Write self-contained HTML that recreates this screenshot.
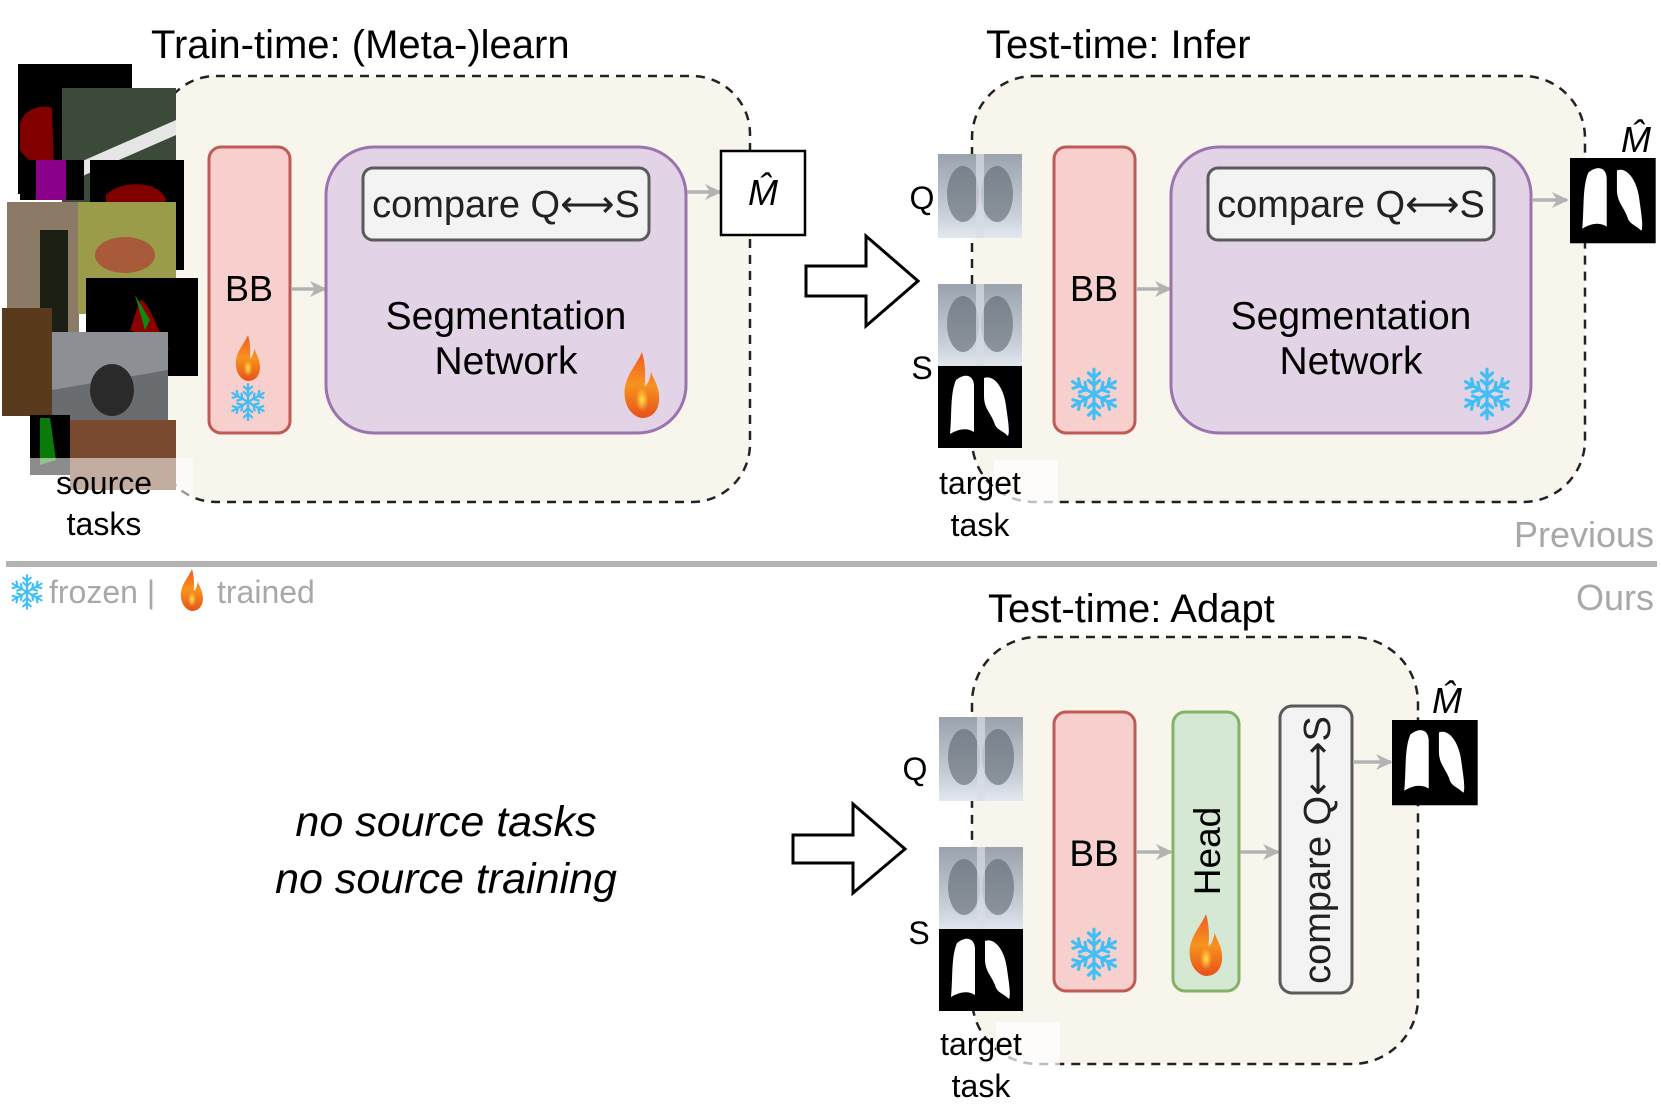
<!DOCTYPE html>
<html><head><meta charset="utf-8"><style>
body{margin:0;background:#fff;}
svg{display:block;font-family:"Liberation Sans",Arial,sans-serif;}
</style></head><body>
<svg width="1661" height="1110" viewBox="0 0 1661 1110" xmlns="http://www.w3.org/2000/svg">
<defs>
 <linearGradient id="fl" x1="0" y1="1" x2="0" y2="0">
  <stop offset="0" stop-color="#e8501a"/><stop offset="0.5" stop-color="#f7931e"/><stop offset="1" stop-color="#f15a24"/>
 </linearGradient>
 <radialGradient id="fc" cx="0.5" cy="0.6" r="0.4"><stop offset="0" stop-color="#ffe14a"/><stop offset="1" stop-color="#ffe14a" stop-opacity="0"/></radialGradient>
 <g id="flame">
  <path d="M0,-50 C-8,-30 -30,-10 -26,18 C-24,40 -8,50 0,50 C14,50 26,40 26,20 C26,0 16,-10 14,-20 C12,-8 8,0 4,2 C6,-20 4,-36 0,-50 Z" fill="url(#fl)"/>
  <ellipse cx="0" cy="18" rx="12" ry="22" fill="url(#fc)"/>
 </g>
 <g id="snow" stroke="#3fbff5" stroke-width="5" stroke-linecap="round" fill="none">
  <g id="arm"><line x1="0" y1="0" x2="0" y2="-40"/><polyline points="-9,-34 0,-26 9,-34"/><polyline points="-9,-22 0,-14 9,-22"/></g>
  <use href="#arm" transform="rotate(60)"/><use href="#arm" transform="rotate(120)"/><use href="#arm" transform="rotate(180)"/><use href="#arm" transform="rotate(240)"/><use href="#arm" transform="rotate(300)"/>
 </g>
 <linearGradient id="xr" x1="0" y1="0" x2="0" y2="1"><stop offset="0" stop-color="#9aa3ad"/><stop offset="0.7" stop-color="#c7ced8"/><stop offset="1" stop-color="#e3e8f0"/></linearGradient>
 <g id="xray">
  <rect x="0" y="0" width="84" height="84" fill="url(#xr)"/>
  <ellipse cx="25" cy="40" rx="16" ry="28" fill="#5d6670" opacity="0.6"/>
  <ellipse cx="59" cy="40" rx="16" ry="28" fill="#5d6670" opacity="0.6"/>
  <rect x="38" y="0" width="8" height="84" fill="#d8dde5" opacity="0.7"/>
 </g>
 <g id="mask">
  <rect x="0" y="0" width="84" height="82" fill="#000"/>
  <path d="M18,14 C28,6 36,10 36,20 L36,66 C30,62 22,62 12,68 C14,48 12,28 18,14 Z" fill="#fff"/>
  <path d="M46,12 C56,8 66,22 68,40 C70,54 72,66 70,70 C64,64 58,64 56,56 C52,46 46,42 46,30 Z" fill="#fff"/>
 </g>
 <marker id="ga" markerWidth="18" markerHeight="18" refX="15" refY="9" orient="auto" markerUnits="userSpaceOnUse"><path d="M0,1 L17,9 L0,17 L5,9 Z" fill="#b3b3b3"/></marker>
</defs>

<!-- ===== TOP LEFT ===== -->
<text x="151" y="58" font-size="40">Train-time: (Meta-)learn</text>
<rect x="158" y="76" width="592" height="426" rx="58" fill="#f8f5ed" stroke="#222" stroke-width="2.5" stroke-dasharray="9,7"/>
<rect x="18" y="64" width="114" height="130" fill="#000"/>
<path d="M20,125 C22,110 40,104 52,108 L54,170 C40,168 26,160 20,150 Z" fill="#800000"/>
<rect x="62" y="88" width="114" height="118" fill="#3c4a3a"/>
<path d="M62,170 L176,120 L176,135 L62,185 Z" fill="#e6e6e6"/>
<rect x="20" y="160" width="64" height="40" fill="#000"/><rect x="36" y="160" width="30" height="40" fill="#8b008b"/>
<rect x="90" y="160" width="94" height="110" fill="#000"/><path d="M106,195 C120,180 160,180 166,200 L160,220 L106,222 Z" fill="#800000"/>
<rect x="7" y="202" width="72" height="160" fill="#8a7a66"/>
<rect x="40" y="230" width="28" height="120" fill="#1c1f14"/>
<rect x="78" y="202" width="98" height="112" fill="#9a9c4a"/><ellipse cx="125" cy="255" rx="30" ry="18" fill="#a85a3a"/>
<rect x="86" y="278" width="112" height="98" fill="#000"/><path d="M140,300 C150,300 160,340 170,350 L130,330 Z" fill="#8b0000"/><path d="M135,295 L150,320 L145,330 Z" fill="#108810"/>
<rect x="2" y="308" width="50" height="108" fill="#5a3a1c"/>
<rect x="52" y="332" width="116" height="124" fill="#8c8f93"/><path d="M52,390 L168,370 L168,456 L52,456 Z" fill="#6a6d70"/><ellipse cx="112" cy="390" rx="22" ry="26" fill="#2a2a2a"/>
<rect x="30" y="415" width="40" height="60" fill="#000"/><path d="M40,418 L50,418 L56,460 L40,465 Z" fill="#0a7a0a"/>
<rect x="70" y="420" width="106" height="70" fill="#7a4a30"/>
<rect x="28" y="458" width="165" height="50" fill="#fff" opacity="0.55"/>
<text x="104" y="494" font-size="32" text-anchor="middle">source</text>
<text x="104" y="535" font-size="32" text-anchor="middle">tasks</text>

<rect x="209" y="147" width="81" height="286" rx="12" fill="#f7cfcc" stroke="#c05a55" stroke-width="3"/>
<text x="249" y="301" font-size="36" text-anchor="middle">BB</text>
<use href="#flame" transform="translate(248,358) scale(0.46)"/>
<use href="#snow" transform="translate(248,402) scale(0.45)"/>
<line x1="291" y1="289" x2="325" y2="289" stroke="#b3b3b3" stroke-width="3.5" marker-end="url(#ga)"/>

<rect x="326" y="147" width="360" height="286" rx="48" fill="#e2d4e6" stroke="#9b73ad" stroke-width="3"/>
<rect x="363" y="168" width="286" height="72" rx="10" fill="#f3f3f3" stroke="#5a5a5a" stroke-width="3"/>
<text x="506" y="217" font-size="38" text-anchor="middle" fill="#222">compare Q⟷S</text>
<text x="506" y="329" font-size="39" text-anchor="middle">Segmentation</text>
<text x="506" y="374" font-size="39" text-anchor="middle">Network</text>
<use href="#flame" transform="translate(642,385) scale(0.66)"/>
<line x1="687" y1="192" x2="720" y2="192" stroke="#b3b3b3" stroke-width="3.5" marker-end="url(#ga)"/>
<rect x="721" y="151" width="84" height="84" fill="#fff" stroke="#000" stroke-width="2.5"/>
<text x="763" y="205" font-size="36" text-anchor="middle" font-style="italic">M̂</text>

<path d="M806,266 L866,266 L866,236 L918,281 L866,326 L866,296 L806,296 Z" fill="#fff" stroke="#000" stroke-width="3"/>

<!-- ===== TOP RIGHT ===== -->
<text x="986" y="58" font-size="40">Test-time: Infer</text>
<g transform="translate(-6,0)">
<rect x="978" y="76" width="613" height="426" rx="62" fill="#f8f5ed" stroke="#222" stroke-width="2.5" stroke-dasharray="9,7"/>
<rect x="1000" y="460" width="64" height="44" fill="#fff" opacity="0.7"/>
<use href="#xray" transform="translate(944,154)"/>
<use href="#xray" transform="translate(944,284)"/>
<use href="#mask" transform="translate(944,366)"/>
<text x="928" y="209" font-size="32" text-anchor="middle">Q</text>
<text x="928" y="379" font-size="32" text-anchor="middle">S</text>
<text x="986" y="494" font-size="32" text-anchor="middle">target</text>
<text x="986" y="536" font-size="32" text-anchor="middle">task</text>
<g transform="translate(-4,0)">
<rect x="1064" y="147" width="81" height="286" rx="12" fill="#f7cfcc" stroke="#c05a55" stroke-width="3"/>
<text x="1104" y="301" font-size="36" text-anchor="middle">BB</text>
<use href="#snow" transform="translate(1104,394) scale(0.62)"/>
<line x1="1146" y1="289" x2="1180" y2="289" stroke="#b3b3b3" stroke-width="3.5" marker-end="url(#ga)"/>
<rect x="1181" y="147" width="360" height="286" rx="48" fill="#e2d4e6" stroke="#9b73ad" stroke-width="3"/>
<rect x="1218" y="168" width="286" height="72" rx="10" fill="#f3f3f3" stroke="#5a5a5a" stroke-width="3"/>
<text x="1361" y="217" font-size="38" text-anchor="middle" fill="#222">compare Q⟷S</text>
<text x="1361" y="329" font-size="39" text-anchor="middle">Segmentation</text>
<text x="1361" y="374" font-size="39" text-anchor="middle">Network</text>
<use href="#snow" transform="translate(1497,394) scale(0.62)"/>
<line x1="1542" y1="200" x2="1577" y2="200" stroke="#b3b3b3" stroke-width="3.5" marker-end="url(#ga)"/>
</g>
<use href="#mask" transform="translate(1576,158) scale(1.02,1.04)"/>
<text x="1642" y="152" font-size="36" text-anchor="middle" font-style="italic">M̂</text>
</g>

<text x="1654" y="547" font-size="36" text-anchor="end" fill="#a8a8a8">Previous</text>
<rect x="6" y="561" width="1651" height="6" fill="#b3b3b3"/>

<use href="#snow" transform="translate(27,592) scale(0.42)"/>
<text x="49" y="603" font-size="32" fill="#a8a8a8">frozen |</text>
<use href="#flame" transform="translate(192,590) scale(0.42)"/>
<text x="217" y="603" font-size="32" fill="#a8a8a8">trained</text>
<text x="1654" y="610" font-size="36" text-anchor="end" fill="#a8a8a8">Ours</text>

<!-- ===== BOTTOM ===== -->
<text x="988" y="622" font-size="40">Test-time: Adapt</text>
<text x="446" y="836" font-size="43" text-anchor="middle" font-style="italic">no source tasks</text>
<text x="446" y="893" font-size="43" text-anchor="middle" font-style="italic">no source training</text>
<path d="M793,835 L853,835 L853,804 L905,849 L853,893 L853,863 L793,863 Z" fill="#fff" stroke="#000" stroke-width="3"/>

<g transform="translate(-9,0)">
<rect x="981" y="637" width="446" height="427" rx="66" fill="#f8f5ed" stroke="#222" stroke-width="2.5" stroke-dasharray="9,7"/>
<rect x="1005" y="1022" width="64" height="44" fill="#fff" opacity="0.7"/>
<use href="#xray" transform="translate(948,717)"/>
<use href="#xray" transform="translate(948,847)"/>
<use href="#mask" transform="translate(948,929)"/>
<text x="924" y="780" font-size="32" text-anchor="middle">Q</text>
<text x="928" y="944" font-size="32" text-anchor="middle">S</text>
<text x="990" y="1055" font-size="32" text-anchor="middle">target</text>
<text x="990" y="1097" font-size="32" text-anchor="middle">task</text>
<g transform="translate(-3,0)">
<rect x="1066" y="712" width="81" height="279" rx="12" fill="#f7cfcc" stroke="#c05a55" stroke-width="3"/>
<text x="1106" y="866" font-size="37" text-anchor="middle">BB</text>
<use href="#snow" transform="translate(1106,954) scale(0.62)"/>
<line x1="1148" y1="852" x2="1183" y2="852" stroke="#b3b3b3" stroke-width="3.5" marker-end="url(#ga)"/>
<rect x="1185" y="712" width="66" height="279" rx="12" fill="#d5e8d4" stroke="#82b366" stroke-width="3"/>
<text transform="translate(1232,851) rotate(-90)" font-size="37" text-anchor="middle">Head</text>
<use href="#flame" transform="translate(1218,945) scale(0.62)"/>
<line x1="1252" y1="852" x2="1290" y2="852" stroke="#b3b3b3" stroke-width="3.5" marker-end="url(#ga)"/>
<rect x="1292" y="706" width="72" height="287" rx="12" fill="#f3f3f3" stroke="#5a5a5a" stroke-width="3"/>
<text transform="translate(1342,850) rotate(-90)" font-size="38" text-anchor="middle" fill="#222">compare Q⟷S</text>
<line x1="1365" y1="762" x2="1403" y2="762" stroke="#b3b3b3" stroke-width="3.5" marker-end="url(#ga)"/>
<use href="#mask" transform="translate(1404,720) scale(1.02,1.04)"/>
<text x="1459" y="713" font-size="36" text-anchor="middle" font-style="italic">M̂</text>
</g>
</g>
</svg>
</body></html>
